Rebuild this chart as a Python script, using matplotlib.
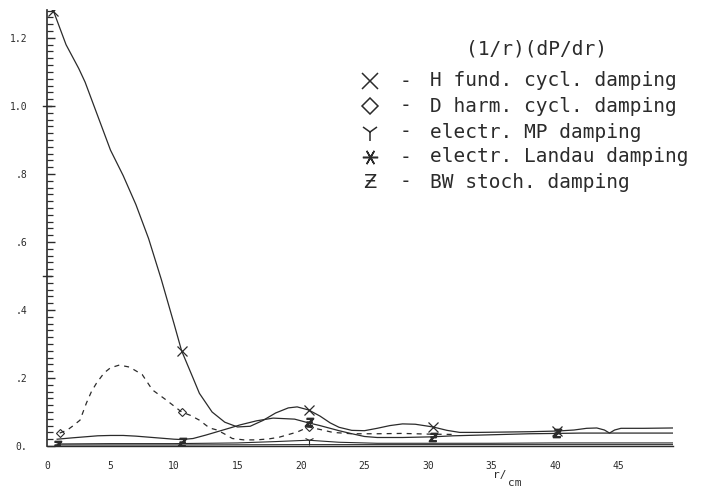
import matplotlib
matplotlib.use('Agg')
import matplotlib.pyplot as plt

# H fundamental cyclotron damping (X)
h_r = [0.5, 1.5, 2.5, 3, 4, 5, 6, 7, 8, 9, 10, 10.6, 11.5, 12, 13, 14, 15, 16, 17, 18, 19, 19.7,
       20.6, 21.5, 22.3, 23, 24, 25, 26, 27, 28, 29, 30.4, 31.5, 32.5, 34, 36, 38, 40.2, 41.5,
       42.5, 43.3, 43.9, 44.3, 44.7, 45.2, 47, 49.3]
h_p = [1.28, 1.18, 1.11, 1.07, 0.97, 0.87, 0.795, 0.71, 0.61, 0.49, 0.36, 0.28, 0.20, 0.155,
       0.10, 0.07, 0.056, 0.058, 0.075, 0.097, 0.112, 0.115, 0.106, 0.088, 0.068, 0.055, 0.046,
       0.045, 0.052, 0.06, 0.065, 0.064, 0.056, 0.046, 0.04, 0.04, 0.041, 0.042, 0.044, 0.047,
       0.052, 0.053, 0.047, 0.038, 0.047, 0.052, 0.052, 0.053]
h_mark = [0.5, 10.6, 20.6, 30.4, 40.2]
h_mark_p = [1.28, 0.28, 0.106, 0.056, 0.044]

# D harmonic cyclotron damping (diamond, dashed)
d_r = [1.0, 1.6, 2.0, 2.6, 3.1, 3.5, 3.9, 4.5, 5.0, 5.7, 6.5, 7.5, 8.3, 9.4, 10.6, 11.3, 12.0,
       12.8, 13.4, 14.0, 14.6, 15.5, 16.5, 17.5, 18.3, 19.7, 20.6, 21.7, 22.5, 24, 26, 28, 30, 32]
d_p = [0.038, 0.047, 0.058, 0.076, 0.126, 0.16, 0.185, 0.215, 0.23, 0.238, 0.232, 0.21, 0.165,
       0.135, 0.10, 0.09, 0.076, 0.053, 0.047, 0.035, 0.022, 0.018, 0.018, 0.021, 0.026, 0.041,
       0.056, 0.047, 0.04, 0.036, 0.036, 0.037, 0.035, 0.034]
d_mark = [1.0, 10.6, 20.6]
d_mark_p = [0.038, 0.10, 0.056]

# electron MP damping (Y)
mp_r = [0.8, 5, 10, 15, 18, 20.6, 23, 26, 30, 35, 40, 45, 49.3]
mp_p = [0.006, 0.007, 0.007, 0.009, 0.013, 0.017, 0.011, 0.008, 0.008, 0.008, 0.009, 0.009, 0.009]
mp_mark = [20.6]
mp_mark_p = [0.017]

# electron Landau damping (*)
ld_r = [0.8, 10, 20, 30, 40, 49.3]
ld_p = [0.003, 0.003, 0.004, 0.004, 0.004, 0.004]

# BW stochastic damping (Z)
bw_r = [0.8, 2, 3, 4, 5, 6, 7, 8, 9, 10, 10.6, 11.5, 12.5, 13.5, 14.5, 15.2, 16.5, 17.8, 19.5,
        20.6, 21.5, 22.3, 23, 23.9, 25, 26, 28, 30.4, 32, 34, 36, 38, 40.2, 42, 44, 46, 49.3]
bw_p = [0.02, 0.024, 0.027, 0.03, 0.031, 0.031, 0.029, 0.026, 0.023, 0.02, 0.019, 0.022, 0.032,
        0.043, 0.054, 0.062, 0.074, 0.082, 0.079, 0.068, 0.06, 0.052, 0.045, 0.037, 0.028,
        0.025, 0.025, 0.027, 0.03, 0.032, 0.034, 0.036, 0.037, 0.038, 0.038, 0.038, 0.038]
bw_mark = [0.8, 10.6, 20.6, 30.4, 40.2]
bw_mark_p = [0.004, 0.013, 0.072, 0.027, 0.037]

x_ticks = [0, 5, 10, 15, 20, 25, 30, 35, 40, 45]
y_ticks = [0, 0.2, 0.4, 0.6, 0.8, 1.0, 1.2]
y_labels = ['0.', '.2', '.4', '.6', '.8', '1.0', '1.2']

legend_title = '(1/r)(dP/dr)'
legend_labels = ['H fund. cycl. damping', 'D harm. cycl. damping', 'electr. MP damping',
                 'electr. Landau damping', 'BW stoch. damping']

ink = '#2b2b2b'
mono = 'DejaVu Sans Mono'
W, H = 705, 492

fig = plt.figure(figsize=(W / 100, H / 100), dpi=100)
ax = fig.add_axes([47 / W, 46 / H, 626 / W, 436 / H])

ax.plot(h_r, h_p, color=ink, lw=0.9)
ax.plot(h_mark, h_mark_p, ls='none', marker='x', ms=7, mew=0.9, color=ink)
ax.plot(d_r, d_p, color=ink, lw=0.9, ls=(0, (4, 4)))
ax.plot(d_mark, d_mark_p, ls='none', marker='D', ms=4, mew=0.8, mfc='none', color=ink)
ax.plot(mp_r, mp_p, color=ink, lw=0.8)
ax.plot(mp_mark, mp_mark_p, ls='none', marker='1', ms=7, mew=0.8, color=ink)
ax.plot(ld_r, ld_p, color=ink, lw=0.8)
ax.plot(bw_r, bw_p, color=ink, lw=0.9)
ax.plot(bw_mark, bw_mark_p, ls='none', marker='$\u01B5$', ms=6, color=ink)

ax.set_xlim(0, 49.3)
ax.set_ylim(0, 1.282)
for s in ['top', 'right']:
    ax.spines[s].set_visible(False)
ax.spines['left'].set_color(ink)
ax.spines['bottom'].set_color(ink)
ax.spines['left'].set_linewidth(1.2)
ax.spines['bottom'].set_linewidth(1.0)

ax.set_xticks(x_ticks)
ax.set_xticklabels([str(v) for v in x_ticks], family=mono, fontsize=7, color=ink)
ax.tick_params(axis='x', length=0, pad=11)
ax.set_yticks(y_ticks)
ax.set_yticklabels(y_labels, family=mono, fontsize=7, color=ink)
ax.tick_params(axis='y', direction='in', length=6, width=1.0, color=ink, pad=14)
ax.set_yticks([i * 0.02 for i in range(65)], minor=True)
ax.tick_params(axis='y', which='minor', direction='in', length=4, width=0.9, color=ink)
# crossing ticks at 0.5 and 1.0
for v in [0.5, 1.0]:
    ax.plot([-0.35, 0.35], [v, v], color=ink, lw=1.0, clip_on=False)

# r/cm axis label
fig.text(493 / W, 1 - 475 / H, 'r/', family=mono, fontsize=8, color=ink, va='center')
fig.text(508 / W, 1 - 483 / H, 'cm', family=mono, fontsize=8, color=ink, va='center')

# legend
fig.text(537 / W, 1 - 49 / H, legend_title, family=mono, fontsize=14, color=ink,
         ha='center', va='center')
rows_y = [81, 106, 132, 157, 182]
symbols = ['x', 'D', '1', (6, 2, 90), None]
sizes = [11, 8, 13, 11, 0]
for yy, lab, sym, sz in zip(rows_y, legend_labels, symbols, sizes):
    fy = 1 - yy / H
    if sym is not None:
        ax.plot([370 / W], [fy], transform=fig.transFigure, clip_on=False, ls='none',
                marker=sym, ms=sz, mew=1.1, mfc='none', color=ink)
    else:
        fig.text(370 / W, fy, '\u01B5', fontsize=14, color=ink, ha='center', va='center')
    fig.text(405 / W, fy, '-', family=mono, fontsize=14, color=ink, ha='center', va='center')
    fig.text(430 / W, fy, lab, family=mono, fontsize=14, color=ink, va='center')

fig.savefig('out.png', dpi=100)
